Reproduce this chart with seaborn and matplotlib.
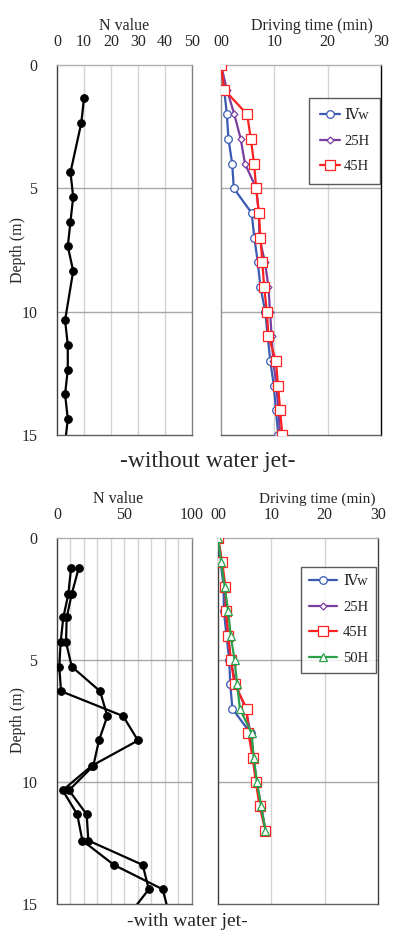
import numpy as np
import pandas as pd
import seaborn as sns
import matplotlib.pyplot as plt

sns.set_style("white")
plt.rcParams['font.family'] = ['Liberation Serif', 'DejaVu Serif']

# ---- without water jet ----
n_depth_top = [1.35, 2.35, 4.35, 5.35, 6.35, 7.35, 8.35, 10.35, 11.35, 12.35, 13.35, 14.35, 15.35]
n_value_top = [10, 9, 5, 6, 5, 4, 6, 3, 4, 4, 3, 4, 3]

t_depth_top = list(range(0, 16))
ivw_top = [0, 0.6, 1.1, 1.4, 2.1, 2.4, 5.75, 6.25, 6.9, 7.4, 8.3, 8.75, 9.25, 9.9, 10.3, 10.75]
h25_top = [0, 1.1, 2.5, 3.7, 4.5, 6.6, 7.1, 7.2, 8.25, 8.9, 9.2, 9.5, 9.8, 10.4, 10.75, 11.1]
h45_top = [0, 0.6, 4.9, 5.6, 6.2, 6.6, 7.1, 7.4, 7.75, 8.1, 8.6, 8.9, 10.3, 10.7, 11.1, 11.5]

# ---- with water jet ----
n_depth_bot = [1.25, 2.3, 3.25, 4.27, 5.27, 6.28, 7.3, 8.3, 9.34, 10.34, 11.33, 12.4, 13.4, 14.4, 15.4]
n_a_bot = [10.4, 8.4, 4.7, 2.7, 1.7, 3, 49, 60, 25.7, 4.2, 15, 18.8, 42.2, 78.3, 83]
n_b_bot = [16, 10.9, 7.2, 6.7, 10.9, 31.9, 37.3, 31.1, 26.9, 8.9, 22, 23.2, 63.5, 68, 54]

t_depth_bot = list(range(0, 13))
ivw_bot = [0, 0.5, 1.05, 1.1, 1.6, 2.1, 2.3, 2.7, 6.1, 6.6, 7.2, 8.0, 8.9]
h25_bot = [0, 0.7, 1.3, 1.5, 1.9, 2.4, 3.3, 5.2, 6.1, 6.7, 7.2, 8.1, 8.9]
h45_bot = [0, 0.8, 1.4, 1.5, 1.9, 2.4, 3.1, 5.4, 5.7, 6.5, 7.1, 7.8, 8.9]
h50_bot = [0, 0.6, 1.25, 1.9, 2.4, 3.1, 3.6, 4.1, 6.3, 6.7, 7.3, 8.1, 8.9]

labels = ['Ⅳw', '25H', '45H', '50H']
colors = ['#3a5ab4', '#7a3da0', '#ff2020', '#2aa04a']
markers = ['o', 'D', 's', '^']
msizes = [5.5, 3.5, 6.5, 5.5]

fig = plt.figure(figsize=(3.93, 9.35), dpi=100)

ax1 = fig.add_axes([0.145, 0.5348, 0.3435, 0.3957])
ax2 = fig.add_axes([0.5623, 0.5348, 0.4071, 0.3957])
ax3 = fig.add_axes([0.145, 0.0332, 0.3435, 0.3914])
ax4 = fig.add_axes([0.5547, 0.0332, 0.4071, 0.3914])


def style_axes(ax, xmax, xticks, xticklabels, minor, xlabel, label_x, show_y):
    ax.set_xlim(0, xmax)
    ax.set_ylim(15, 0)
    ax.xaxis.tick_top()
    ax.xaxis.set_label_position('top')
    ax.set_xticks(xticks)
    ax.set_xticklabels(xticklabels, fontsize=11.5)
    ax.set_xlabel(xlabel, fontsize=11.5, labelpad=3)
    ax.xaxis.label.set_x(label_x)
    ax.set_yticks([0, 5, 10, 15])
    if show_y:
        ax.set_yticklabels(['0', '5', '10', '15'], fontsize=11.5)
    else:
        ax.set_yticklabels([])
    ax.set_ylabel('')
    ax.tick_params(axis='x', which='both', length=0, pad=11)
    ax.tick_params(axis='y', direction='in', length=4, color='#404040', pad=14)
    for x in minor:
        ax.axvline(x, color='#d4d4d4', lw=1, zorder=0)
    for y in [5, 10]:
        ax.axhline(y, color='#a8a8a8', lw=1, zorder=0)
    ax.grid(False)
    ax.spines['top'].set_color('#b0b0b0')
    ax.spines['right'].set_color('#808080')
    ax.spines['left'].set_color('#404040')
    ax.spines['bottom'].set_color('#606060')
    for s in ax.spines.values():
        s.set_linewidth(1)


def n_line(ax, x, y):
    sns.lineplot(x=x, y=y, ax=ax, sort=False, estimator=None, color='black',
                 lw=1.6, marker='o', markersize=5.5, markeredgecolor='black',
                 zorder=3)


def time_lines(ax, depth, series):
    for i, s in enumerate(series):
        sns.lineplot(x=s, y=depth, ax=ax, sort=False, estimator=None,
                     color=colors[i], lw=1.6,
                     marker=markers[i], markersize=msizes[i],
                     markerfacecolor='white', markeredgecolor=colors[i],
                     markeredgewidth=0.9, label=labels[i], zorder=3 + i)


n_line(ax1, n_value_top, n_depth_top)
time_lines(ax2, t_depth_top, [ivw_top, h25_top, h45_top])
n_line(ax3, n_a_bot, n_depth_bot)
n_line(ax3, n_b_bot, n_depth_bot)
time_lines(ax4, t_depth_bot, [ivw_bot, h25_bot, h45_bot, h50_bot])

style_axes(ax1, 50, [0, 10, 20, 30, 40, 50], ['0', '10', '20', '30', '40', '50'],
           [10, 20, 30, 40], 'N value', 0.5, True)
style_axes(ax2, 30, [0, 10, 20, 30], ['00', '10', '20', '30'],
           [10, 20], 'Driving time (min)', 0.57, False)
style_axes(ax3, 100, [0, 50, 100], ['0', '50', '100'],
           list(range(10, 100, 10)), 'N value', 0.45, True)
style_axes(ax4, 30, [0, 10, 20, 30], ['00', '10', '20', '30'],
           [10, 20], 'Driving time (min)', 0.62, False)
ax4.xaxis.label.set_fontsize(11)
ax2.spines['right'].set_color('black')
ax4.spines['right'].set_color('#404040')
ax2.spines['left'].set_color('#909090')
ax4.spines['left'].set_color('#404040')

leg_opts = [(ax2, (0.994, 0.911), 0.75, 1.4, 0.25),
            (ax4, (0.99, 0.921), 0.55, 1.9, 0.45)]
for ax, anchor, bp, hl, hp in leg_opts:
    leg = ax.legend(loc='upper right', bbox_to_anchor=anchor, fontsize=10.5,
                    frameon=True, fancybox=False, handlelength=hl,
                    handletextpad=hp, labelspacing=0.85, borderpad=bp,
                    borderaxespad=0)
    leg.get_frame().set_edgecolor('#303030')
    leg.get_frame().set_linewidth(1)

fig.text(18 / 393, 1 - 250 / 935, 'Depth (m)', rotation=90, ha='center',
         va='center', fontsize=11.5)
fig.text(18 / 393, 1 - 720 / 935, 'Depth (m)', rotation=90, ha='center',
         va='center', fontsize=11.5)
fig.text(208 / 393, 1 - 462 / 935, '-without water jet-', ha='center',
         va='center', fontsize=17)
fig.text(187 / 393, 1 - 922 / 935, '-with water jet-', ha='center',
         va='center', fontsize=14)

fig.savefig('out.png', dpi=100)
